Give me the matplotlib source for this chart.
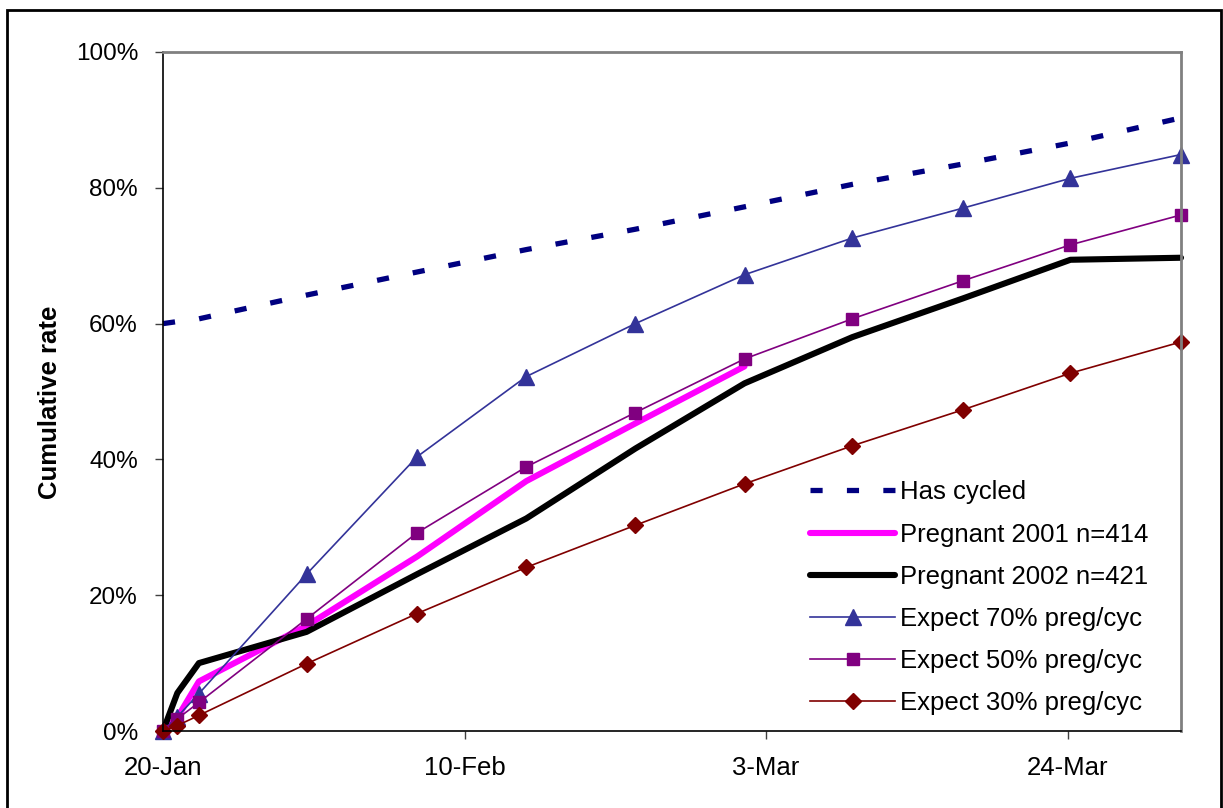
import matplotlib.pyplot as plt
from matplotlib.patches import Rectangle
from matplotlib.ticker import FuncFormatter

plt.rcParams['font.family'] = ['Liberation Sans', 'DejaVu Sans']

# days since 20-Jan
days = [0, 1, 2.5, 10, 17.7, 25.3, 32.9, 40.5, 48.0, 55.7, 63.2, 70.9]

has_cycled = [60.0, 60.3, 60.7, 64.2, 67.6, 70.9, 73.9, 77.2, 80.5, 83.5, 86.6, 90.3]
preg_2001 = [0.0, 2.0, 7.3, 15.5, 25.7, 36.8, 45.3, 53.7]
preg_2002 = [0.0, 5.6, 10.0, 14.6, 23.1, 31.3, 41.6, 51.2, 58.0, 63.7, 69.4, 69.7]
expect_70 = [0.0, 2.1, 5.5, 23.1, 40.4, 52.2, 60.0, 67.2, 72.6, 77.0, 81.4, 84.9]
expect_50 = [0.0, 1.8, 4.2, 16.5, 29.2, 38.9, 46.9, 54.8, 60.7, 66.3, 71.6, 76.0]
expect_30 = [0.0, 0.8, 2.3, 9.9, 17.3, 24.1, 30.3, 36.4, 42.0, 47.3, 52.7, 57.3]

tick_days = [0, 21, 42, 63]
tick_labels = ['20-Jan', '10-Feb', '3-Mar', '24-Mar']

fig = plt.figure(figsize=(12.23, 8.08), dpi=100)
ax = fig.add_axes([163 / 1223, 1 - 731 / 808, (1181 - 163) / 1223, (731 - 52) / 808])

ax.plot(days, has_cycled, color='#000080', lw=3.8, dashes=(2.3, 4.6),
        dash_capstyle='butt', label='Has cycled')
ax.plot(days[:len(preg_2001)], preg_2001, color='#FF00FF', lw=4.4,
        solid_capstyle='round', solid_joinstyle='round', label='Pregnant 2001 n=414')
ax.plot(days, preg_2002, color='black', lw=4.4,
        solid_capstyle='round', solid_joinstyle='round', label='Pregnant 2002 n=421')
ax.plot(days, expect_70, color='#333399', lw=1.2, marker='^', ms=11.5,
        label='Expect 70% preg/cyc')
ax.plot(days, expect_50, color='#800080', lw=1.2, marker='s', ms=9,
        label='Expect 50% preg/cyc')
ax.plot(days, expect_30, color='#800000', lw=1.2, marker='D', ms=8.5,
        label='Expect 30% preg/cyc')

ax.set_xlim(0, 70.9)
ax.set_ylim(0, 100)
ax.set_yticks([0, 20, 40, 60, 80, 100])
ax.yaxis.set_major_formatter(FuncFormatter(lambda v, p: f'{v:.0f}%'))
ax.set_xticks(tick_days)
ax.set_xticklabels(tick_labels)

for side in ('top', 'right'):
    ax.spines[side].set_color('#808080')
    ax.spines[side].set_linewidth(2)
for side in ('left', 'bottom'):
    ax.spines[side].set_color('black')
    ax.spines[side].set_linewidth(1.2)
ax.tick_params(axis='both', direction='out', length=6, width=1, colors='#404040',
               labelcolor='black', labelsize=17.5)
ax.tick_params(axis='y', pad=12)
ax.tick_params(axis='x', pad=12, labelsize=18.5)
for lbl in ax.get_xticklabels() + ax.get_yticklabels():
    lbl.set_clip_on(False)
for line in ax.get_lines():
    line.set_clip_on(False)

ax.set_ylabel('Cumulative rate', fontsize=18.5, fontweight='bold', va='center')
ax.yaxis.set_label_coords(-0.111, 0.4845)

ax.legend(loc='upper left', bbox_to_anchor=(0.636, 0.369), frameon=False,
          fontsize=18.5, handlelength=3.3, handletextpad=0.2, labelspacing=0.705,
          borderpad=0, borderaxespad=0)

# outer chart frame
fig.patches.append(Rectangle((7 / 1223, -0.05), (1221 - 7) / 1223, 1.05 - 10 / 808,
                             transform=fig.transFigure, fill=False,
                             edgecolor='black', lw=2))

fig.savefig('out.png', dpi=100)
